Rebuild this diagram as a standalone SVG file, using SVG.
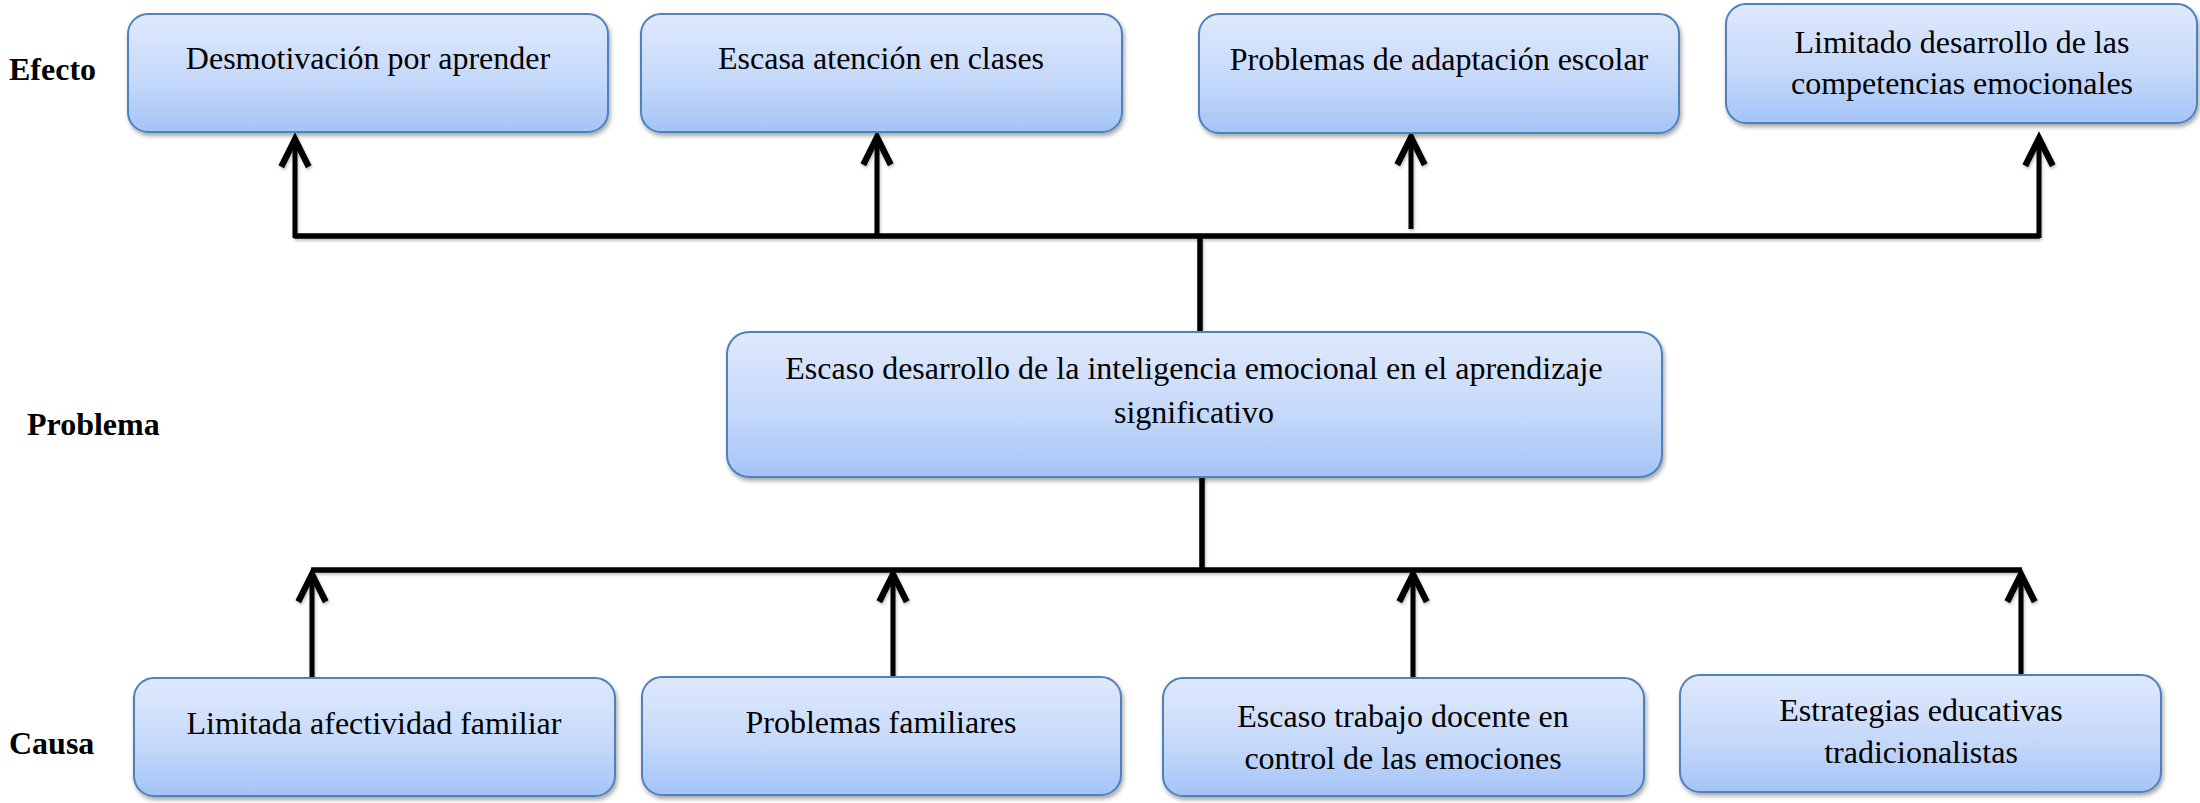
<svg xmlns="http://www.w3.org/2000/svg" width="2200" height="803" viewBox="0 0 2200 803">
  <defs>
    <linearGradient id="boxFill" x1="0" y1="0" x2="0" y2="1">
      <stop offset="0" stop-color="#dfe9fc"/>
      <stop offset="0.55" stop-color="#c6d9fa"/>
      <stop offset="1" stop-color="#a4c4f7"/>
    </linearGradient>
    <filter id="shadow" x="-10%" y="-10%" width="120%" height="130%">
      <feDropShadow dx="1.5" dy="3" stdDeviation="2" flood-color="#000" flood-opacity="0.35"/>
    </filter>
    <filter id="lineShadow" x="-5%" y="-20%" width="110%" height="140%">
      <feDropShadow dx="1" dy="2" stdDeviation="1.5" flood-color="#000" flood-opacity="0.25"/>
    </filter>
    <marker id="arrow" markerUnits="userSpaceOnUse" markerWidth="40" markerHeight="40" refX="0" refY="0" viewBox="-27 -15 32 30" orient="auto" overflow="visible">
      <path d="M-23,-11 L-1,0 L-23,11" fill="none" stroke="#000" stroke-width="5" stroke-linejoin="miter" stroke-linecap="butt"/>
    </marker>
  </defs>
  <style>
    .box { fill: url(#boxFill); stroke: #4f81bd; stroke-width: 2; filter: url(#shadow); }
    .t { font-family: "Liberation Serif", "Times New Roman", serif; font-size: 32px; fill: #000; text-anchor: middle; }
    .lbl { font-family: "Liberation Serif", "Times New Roman", serif; font-size: 32px; font-weight: bold; fill: #000; }
    .ln { stroke: #000; stroke-width: 5.5; fill: none; stroke-linecap: square; }
    .ar { stroke: #000; stroke-width: 5; fill: none; marker-end: url(#arrow); }
  </style>

  <rect width="2200" height="803" fill="#ffffff"/>

  <g id="labels">
    <text class="lbl" x="9" y="80">Efecto</text>
    <text class="lbl" x="27" y="435">Problema</text>
    <text class="lbl" x="9" y="754">Causa</text>
  </g>

  <g id="connectors" filter="url(#lineShadow)">
    <path class="ln" d="M297,236 H2037"/>
    <path class="ln" d="M1200,238 V331"/>
    <path class="ln" d="M1202,477 V568"/>
    <path class="ln" d="M314,570 H2019"/>
    <path class="ar" d="M295,238 V138"/>
    <path class="ar" d="M877,236 V136"/>
    <path class="ar" d="M1411,229 V136"/>
    <path class="ar" d="M2039,238 V137"/>
    <path class="ar" d="M312,679 V573"/>
    <path class="ar" d="M893,678 V573"/>
    <path class="ar" d="M1413,678 V573"/>
    <path class="ar" d="M2021,675 V573"/>
  </g>

  <g id="effect1">
    <rect class="box" x="128" y="14" width="480" height="118" rx="20"/>
    <text class="t" x="368" y="69">Desmotivación por aprender</text>
  </g>
  <g id="effect2">
    <rect class="box" x="641" y="14" width="481" height="118" rx="20"/>
    <text class="t" x="881" y="69">Escasa atención en clases</text>
  </g>
  <g id="effect3">
    <rect class="box" x="1199" y="14" width="480" height="119" rx="20"/>
    <text class="t" x="1439" y="70">Problemas de adaptación escolar</text>
  </g>
  <g id="effect4">
    <rect class="box" x="1726" y="4" width="471" height="119" rx="20"/>
    <text class="t" x="1962" y="53">Limitado desarrollo de las</text>
    <text class="t" x="1962" y="94">competencias emocionales</text>
  </g>

  <g id="problem">
    <rect class="box" x="727" y="332" width="935" height="145" rx="22"/>
    <text class="t" x="1194" y="379">Escaso desarrollo de la inteligencia emocional en el aprendizaje</text>
    <text class="t" x="1194" y="423">significativo</text>
  </g>

  <g id="cause1">
    <rect class="box" x="134" y="678" width="481" height="118" rx="20"/>
    <text class="t" x="374" y="734">Limitada afectividad familiar</text>
  </g>
  <g id="cause2">
    <rect class="box" x="642" y="677" width="479" height="118" rx="20"/>
    <text class="t" x="881" y="733">Problemas familiares</text>
  </g>
  <g id="cause3">
    <rect class="box" x="1163" y="678" width="481" height="118" rx="20"/>
    <text class="t" x="1403" y="727">Escaso trabajo docente en</text>
    <text class="t" x="1403" y="769">control de las emociones</text>
  </g>
  <g id="cause4">
    <rect class="box" x="1680" y="675" width="481" height="117" rx="20"/>
    <text class="t" x="1921" y="721">Estrategias educativas</text>
    <text class="t" x="1921" y="763">tradicionalistas</text>
  </g>
</svg>
